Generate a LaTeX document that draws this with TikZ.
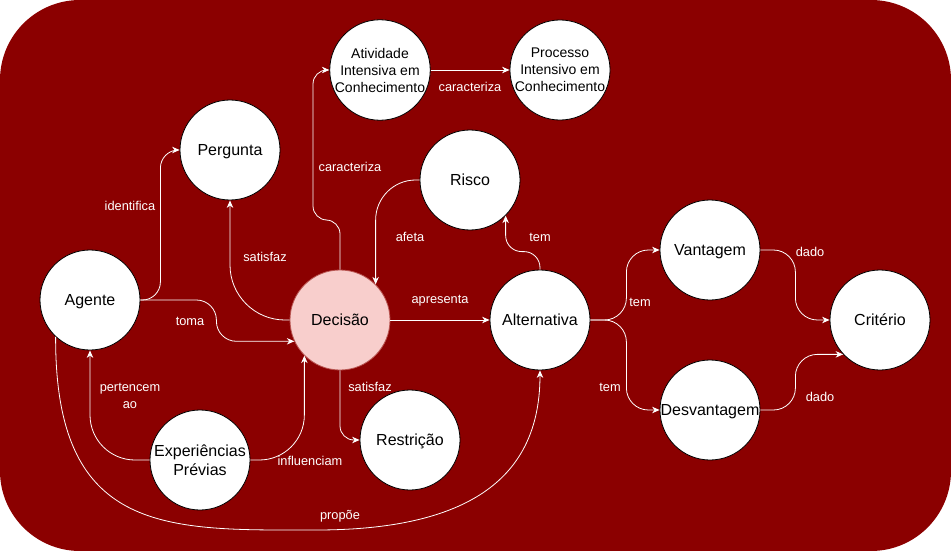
\documentclass[tikz,border=0pt]{standalone}
\usepackage{fontspec}
\setmainfont{Liberation Sans}
\usetikzlibrary{arrows.meta}
\definecolor{bgred}{HTML}{8B0000}
\definecolor{decfill}{HTML}{F8CECC}
\definecolor{decdraw}{HTML}{B85450}
\begin{document}
\begin{tikzpicture}[x=1pt, y=-1pt, >={Stealth[length=7.5pt,width=6.5pt]},
  conc/.style={circle, draw=black, fill=white, line width=.8pt, minimum size=100pt, inner sep=0pt, align=center, font=\fontsize{16}{19}\selectfont},
  oneline/.style={text height=11.5pt, text depth=0pt},
  smalltext/.style={font=\fontsize{14}{17}\selectfont},
  rel/.style={->, white, line width=.8pt, rounded corners=16pt},
  lbl/.style={text=white, align=center, inner sep=1pt, font=\fontsize{12.8}{16.7}\selectfont}]
\useasboundingbox (0,0) rectangle (951,551);
\fill[bgred, rounded corners=80pt] (0,0) rectangle (951,551);

\node[conc, oneline] (agente) at (90,300) {Agente};
\node[conc, oneline] (pergunta) at (230,150) {Pergunta};
\node[conc, oneline, fill=decfill, draw=decdraw] (decisao) at (340,320) {Decisão};
\node[conc] (exp) at (200,460) {Experiências\\Prévias};
\node[conc, oneline] (restricao) at (410,440) {Restrição};
\node[conc, smalltext] (atividade) at (380,70) {Atividade\\Intensiva em\\Conhecimento};
\node[conc, smalltext] (processo) at (560,70) {Processo\\Intensivo em\\Conhecimento};
\node[conc, oneline] (risco) at (470,180) {Risco};
\node[conc, oneline] (alternativa) at (540,320) {Alternativa};
\node[conc, oneline] (vantagem) at (710,250) {Vantagem};
\node[conc, oneline] (desvantagem) at (710,410) {Desvantagem};
\node[conc, oneline] (criterio) at (880,320) {Critério};

\draw[rel, rounded corners=18pt] (agente.east) -- ++(20,0) |- (pergunta.west);
\draw[rel, rounded corners=20pt] (agente.east) -- ++(76,0) |- (decisao.205);
\draw[rel, rounded corners=45pt] (exp.west) -| (agente.south);
\draw[rel, rounded corners=45pt] (exp.east) -| (decisao.225);
\draw[rel] (agente.227) .. controls (55,520) and (150,530) .. (300,530) .. controls (480,530) and (540,470) .. (alternativa.south);
\draw[rel, rounded corners=55pt] (decisao.west) -| (pergunta.south);
\draw[rel, rounded corners=14pt] (decisao.north) |- (313,220) |- (atividade.west);
\draw[rel] (atividade.east) -- (processo.west);
\draw[rel, rounded corners=40pt] (risco.west) -| (decisao.45);
\draw[rel] (alternativa.north) -- ++(0,-18) -| (risco.-45);
\draw[rel] (decisao.east) -- (alternativa.west);
\draw[rel, rounded corners=14pt] (decisao.south) |- (restricao.west);
\draw[rel, rounded corners=22pt] (alternativa.east) -- ++(36,0) |- (vantagem.west);
\draw[rel, rounded corners=22pt] (alternativa.east) -- ++(36,0) |- (desvantagem.west);
\draw[rel, rounded corners=22pt] (vantagem.east) -- ++(35,0) |- (criterio.west);
\draw[rel, rounded corners=22pt] (desvantagem.east) -- ++(35,0) |- (criterio.223);

\node[lbl] (l-identifica) at (130,206) {identifica};
\node[lbl] (l-toma) at (190,321) {toma};
\node[lbl] (l-pertencem) at (130,396) {pertencem\\ao};
\node[lbl] (l-influenciam) at (310,461) {influenciam};
\node[lbl] (l-propoe) at (340,516) {propõe};
\node[lbl] (l-satisfaz1) at (265,257) {satisfaz};
\node[lbl] (l-caracteriza1) at (350,167) {caracteriza};
\node[lbl] (l-caracteriza2) at (470,87) {caracteriza};
\node[lbl] (l-afeta) at (410,237) {afeta};
\node[lbl] (l-tem1) at (540,237) {tem};
\node[lbl] (l-apresenta) at (440,301) {apresenta};
\node[lbl] (l-satisfaz2) at (370,387) {satisfaz};
\node[lbl] (l-tem2) at (640,302) {tem};
\node[lbl] (l-tem3) at (610,387) {tem};
\node[lbl] (l-dado1) at (810,252) {dado};
\node[lbl] (l-dado2) at (820,397) {dado};
\end{tikzpicture}
\end{document}
